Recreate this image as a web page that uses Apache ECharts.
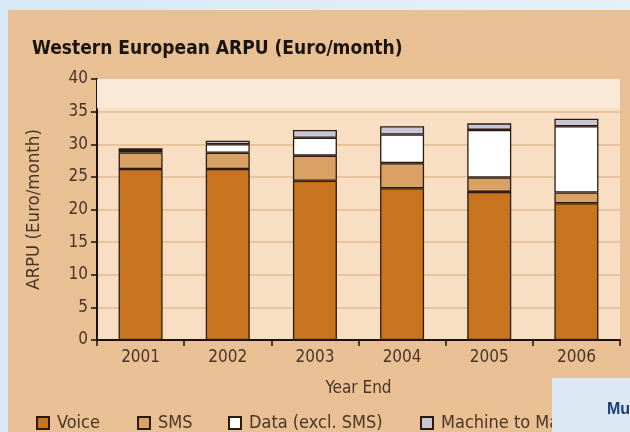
<!DOCTYPE html>
<html>
<head>
<meta charset="utf-8">
<script src="https://cdn.jsdelivr.net/npm/echarts@6/dist/echarts.min.js"></script>
<style>
  html, body { margin: 0; padding: 0; }
  body {
    width: 630px; height: 432px; overflow: hidden; position: relative;
    background: linear-gradient(90deg, #d8e8f6 0%, #e6f0f9 100%);
  }
  #chart { position: absolute; left: 8px; top: 10px; width: 622px; height: 422px; background: #e9bf94; }
</style>
</head>
<body>
<div id="chart"></div>
<script>
const years = ['2001', '2002', '2003', '2004', '2005', '2006'];
const voice = [26.2, 26.2, 24.4, 23.25, 22.7, 20.95];
const sms = [2.55, 2.5, 3.85, 3.85, 2.2, 1.65];
const data = [0.35, 1.3, 2.75, 4.4, 7.3, 10.15];
const m2m = [0.3, 0.55, 1.2, 1.25, 1.0, 1.15];
const seriesNames = ['Voice', 'SMS', 'Data (excl. SMS)', 'Machine to Machine'];

const font = '"DejaVu Sans Condensed", sans-serif';
const textColor = '#4a3528';
const edge = '#2b1a12';

let chart = echarts.init(document.getElementById('chart'));

function bar(name, values, color) {
	return {
		name: name,
		type: 'bar',
		stack: 'arpu',
		barWidth: 44,
		data: values,
		itemStyle: { color: color, borderColor: edge, borderWidth: 1.3 }
	};
};

function legendAt(name, left) {
	return {
		data: [name],
		left: left,
		top: 399,
		itemWidth: 12,
		itemHeight: 12,
		itemGap: 0,
		icon: 'rect',
		textStyle: { fontFamily: font, fontSize: 18, color: textColor, padding: [0, 0, 0, 3] }
	};
};

let series = [
	bar(seriesNames[0], voice, '#c8741f'),
	bar(seriesNames[1], sms, '#d9a164'),
	bar(seriesNames[2], data, '#ffffff'),
	bar(seriesNames[3], m2m, '#c7c6d2')
];
// lighter strip at the top of the plot
series[0].markArea = {
	silent: true,
	itemStyle: { color: '#fbe9d7' },
	data: [[{ yAxis: 35.5 }, { yAxis: 40 }]]
};

chart.setOption({
	animation: false,
	title: {
		text: 'Western European ARPU (Euro/month)',
		left: 19,
		top: 25,
		textStyle: { fontFamily: font, fontSize: 19, fontWeight: 'bold', color: '#1a1411' }
	},
	legend: [
		legendAt(seriesNames[0], 23),
		legendAt(seriesNames[1], 124),
		legendAt(seriesNames[2], 215),
		legendAt(seriesNames[3], 407)
	],
	grid: {
		left: 89, right: 10, top: 69, bottom: 92,
		show: true,
		backgroundColor: '#f8dfc4',
		borderWidth: 0
	},
	xAxis: {
		type: 'category',
		data: years,
		name: 'Year End',
		nameLocation: 'middle',
		nameGap: 40,
		nameTextStyle: { fontFamily: font, fontSize: 17, color: textColor },
		axisLine: { lineStyle: { color: '#1a1010', width: 2 } },
		axisTick: { show: true, length: 6, lineStyle: { color: '#1a1010', width: 1.5 } },
		axisLabel: { fontFamily: font, fontSize: 17, color: textColor, margin: 9 }
	},
	yAxis: {
		type: 'value',
		min: 0,
		max: 40,
		interval: 5,
		name: 'ARPU (Euro/month)',
		nameLocation: 'middle',
		nameGap: 53,
		nameTextStyle: { fontFamily: font, fontSize: 18.5, color: textColor },
		axisLine: { show: true, lineStyle: { color: '#1a1010', width: 2 } },
		axisTick: { show: true, length: 6, lineStyle: { color: '#1a1010', width: 1.5 } },
		axisLabel: { fontFamily: font, fontSize: 17, color: textColor, margin: 9 },
		splitLine: { show: true, lineStyle: { color: '#e8c39c', width: 2 } }
	},
	graphic: [
		{
			type: 'rect',
			z: 100,
			shape: { x: 544, y: 368, width: 80, height: 56 },
			style: { fill: '#dce9f5' }
		},
		{
			type: 'text',
			z: 101,
			x: 599,
			y: 392,
			style: { text: 'Mu', fontFamily: '"Liberation Sans", sans-serif', fontSize: 16, fontWeight: 'bold', fill: '#1d3c78' }
		}
	],
	series: series
});
</script>
</body>
</html>
